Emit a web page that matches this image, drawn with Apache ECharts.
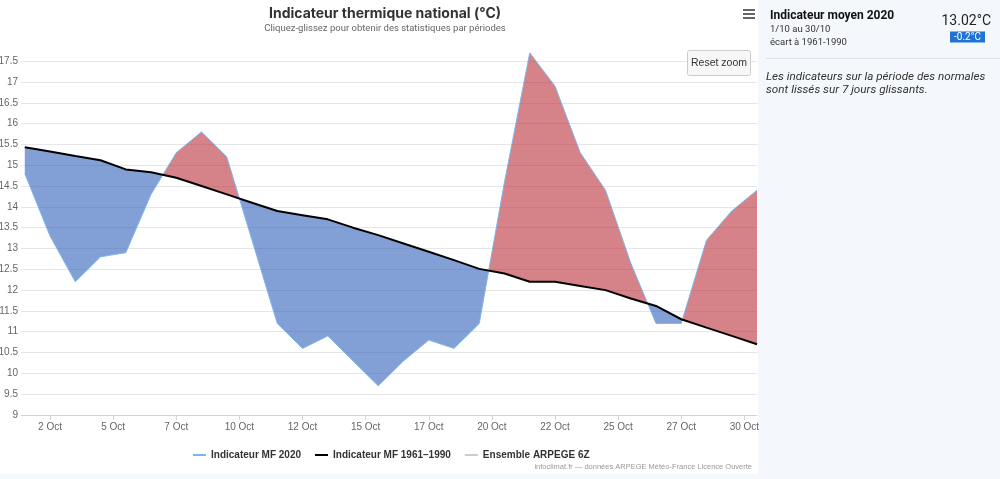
<!DOCTYPE html>
<html>
<head>
<meta charset="utf-8">
<script src="https://cdn.jsdelivr.net/npm/echarts@6/dist/echarts.min.js"></script>
<style>
html,body{margin:0;padding:0;background:#ffffff;}
#c{width:1000px;height:479px;}
</style>
</head>
<body>
<div id="c"></div>
<script>
// ---- data (October 2020, one value per day, plotted at noon) ----
var days = [1,2,3,4,5,6,7,8,9,10,11,12,13,14,15,16,17,18,19,20,21,22,23,24,25,26,27,28,29,30];
var mf2020 = [14.8,13.3,12.2,12.8,12.9,14.3,15.3,15.8,15.2,13.2,11.2,10.6,10.9,10.3,9.7,10.3,10.8,10.6,11.2,14.6,17.7,16.9,15.3,14.4,12.65,11.2,11.2,13.2,13.9,14.4];
var mf6190 = [15.43,15.33,15.22,15.12,14.9,14.83,14.7,14.5,14.3,14.1,13.9,13.8,13.7,13.5,13.32,13.12,12.92,12.72,12.51,12.4,12.2,12.2,12.1,12.0,11.8,11.62,11.3,11.1,10.9,10.7];
var arpege = [];
var xTickValues = [2.5,5,7.5,10,12.5,15,17.5,20,22.5,25,27.5,30];
var xTickLabels = ['2 Oct','5 Oct','7 Oct','10 Oct','12 Oct','15 Oct','17 Oct','20 Oct','22 Oct','25 Oct','27 Oct','30 Oct'];
var yTickValues = [9,9.5,10,10.5,11,11.5,12,12.5,13,13.5,14,14.5,15,15.5,16,16.5,17,17.5];
var seriesNames = ['Indicateur MF 2020','Indicateur MF 1961\u20131990','Ensemble ARPEGE 6Z'];
var meanText = '13.02\u00b0C';
var anomalyText = '-0.2\u00b0C';

var SANS = "'Liberation Sans',Arial,sans-serif";
var UI = "Roboto,Inter,'Noto Sans',sans-serif";
var TITLE = "Inter,Roboto,'Noto Sans',sans-serif";
var RED = 'rgba(185,47,57,0.6)';
var BLUE = 'rgba(47,97,185,0.6)';

function xOf(d){ return d + 0.5; }

// build fill runs between the two curves (split at crossings)
var nodes = [];
for (var i = 0; i < days.length; i++) {
  var x = xOf(days[i]), a = mf2020[i], n = mf6190[i];
  if (i > 0) {
    var pd = mf2020[i-1] - mf6190[i-1], cd = a - n;
    if (pd * cd < 0) {
      var t = pd / (pd - cd);
      var px = xOf(days[i-1]);
      var cy = mf6190[i-1] + t * (n - mf6190[i-1]);
      nodes.push({x: px + t * (x - px), a: cy, n: cy, cross: true});
    }
  }
  nodes.push({x: x, a: a, n: n});
}
var runs = [], cur = [];
nodes.forEach(function(nd){
  cur.push(nd);
  if (nd.cross) { runs.push(cur); cur = [nd]; }
});
runs.push(cur);

var chart = echarts.init(document.getElementById('c'), null, {renderer: 'canvas'});
var option = {
  animation: false,
  backgroundColor: '#ffffff',
  title: {
    text: 'Indicateur thermique national (\u00b0C)',
    subtext: 'Cliquez-glissez pour obtenir des statistiques par p\u00e9riodes',
    left: 380, top: 2, textAlign: 'center', itemGap: 3,
    textStyle: {fontFamily: TITLE, fontSize: 14, fontWeight: 'bold', color: '#333333'},
    subtextStyle: {fontFamily: UI, fontSize: 9.5, color: '#666666'}
  },
  legend: {
    left: 188, top: 445, icon: 'rect', itemWidth: 13, itemHeight: 2, itemGap: 14,
    data: seriesNames,
    textStyle: {fontFamily: SANS, fontSize: 10, fontWeight: 'bold', color: '#333333'}
  },
  grid: {left: 21, right: 243, top: 52, bottom: 64, outerBoundsMode: 'none'},
  xAxis: {
    type: 'value', min: 1.35, max: 30.5,
    axisLine: {show: true, lineStyle: {color: '#ccd6eb'}},
    axisTick: {show: true, length: 5, customValues: xTickValues, lineStyle: {color: '#ccd6eb'}},
    axisLabel: {customValues: xTickValues, margin: 7, fontFamily: SANS, fontSize: 10, color: '#666666',
      formatter: function(v){ var k = xTickValues.indexOf(v); return k >= 0 ? xTickLabels[k] : ''; }},
    splitLine: {show: false}
  },
  yAxis: {
    type: 'value', min: 9, max: 17.72,
    axisLine: {show: false},
    axisTick: {show: false, customValues: yTickValues},
    axisLabel: {customValues: yTickValues, margin: 3, fontFamily: SANS, fontSize: 10, color: '#666666'},
    splitLine: {show: true, lineStyle: {color: '#e6e6e6', width: 1}}
  },
  series: [
    {
      type: 'custom', name: 'fill', z: 1, silent: true, clip: true,
      data: runs.map(function(r){ return [r[0].x, r[0].n]; }),
      renderItem: function(params, api){
        var run = runs[params.dataIndex];
        var s = 0;
        run.forEach(function(p){ s += p.a - p.n; });
        var pts = run.map(function(p){ return api.coord([p.x, p.a]); })
          .concat(run.slice().reverse().map(function(p){ return api.coord([p.x, p.n]); }));
        return {type: 'polygon', shape: {points: pts}, style: {fill: s > 0 ? RED : BLUE}};
      }
    },
    {
      name: seriesNames[0], type: 'line', z: 3, showSymbol: false, symbol: 'none',
      color: '#7cb5ec', lineStyle: {color: '#7cb5ec', width: 1},
      data: days.map(function(d, i){ return [xOf(d), mf2020[i]]; })
    },
    {
      name: seriesNames[1], type: 'line', z: 4, showSymbol: false, symbol: 'none',
      color: '#000000', lineStyle: {color: '#000000', width: 2},
      data: days.map(function(d, i){ return [xOf(d), mf6190[i]]; })
    },
    {
      name: seriesNames[2], type: 'line', z: 2, showSymbol: false, symbol: 'none',
      color: '#cccccc', lineStyle: {color: '#cccccc', width: 1},
      data: arpege
    }
  ],
  graphic: [
    {type: 'rect', z: -10, shape: {x: 758, y: 0, width: 242, height: 479}, style: {fill: '#f4f7fc'}},
    {type: 'rect', z: -10, shape: {x: 0, y: 474, width: 1000, height: 5}, style: {fill: '#f4f7fc'}},
    {type: 'line', shape: {x1: 766, y1: 58.5, x2: 1000, y2: 58.5}, style: {stroke: '#dce2ea', lineWidth: 1}},
    {type: 'text', x: 770, y: 16, style: {text: 'Indicateur moyen 2020', font: 'bold 12px ' + UI, fill: '#111111', textVerticalAlign: 'middle'}},
    {type: 'text', x: 770, y: 29.5, style: {text: '1/10 au 30/10', font: '9.5px ' + UI, fill: '#333333', textVerticalAlign: 'middle'}},
    {type: 'text', x: 770, y: 42.5, style: {text: '\u00e9cart \u00e0 1961-1990', font: '9.5px ' + UI, fill: '#333333', textVerticalAlign: 'middle'}},
    {type: 'text', x: 991, y: 21.5, style: {text: meanText, font: '14px ' + UI, fill: '#222222', textAlign: 'right', textVerticalAlign: 'middle'}},
    {type: 'rect', shape: {x: 950, y: 31.5, width: 35, height: 11}, style: {fill: '#1f72d6'}},
    {type: 'text', x: 967.5, y: 37, style: {text: anomalyText, font: '10px ' + UI, fill: '#ffffff', textAlign: 'center', textVerticalAlign: 'middle'}},
    {type: 'text', x: 766, y: 77.5, style: {text: 'Les indicateurs sur la p\u00e9riode des normales', font: 'italic 11.7px ' + UI, fill: '#333333', textVerticalAlign: 'middle'}},
    {type: 'text', x: 766, y: 90, style: {text: 'sont liss\u00e9s sur 7 jours glissants.', font: 'italic 11.7px ' + UI, fill: '#333333', textVerticalAlign: 'middle'}},
    {type: 'rect', shape: {x: 743, y: 9, width: 12, height: 2}, style: {fill: '#666666'}},
    {type: 'rect', shape: {x: 743, y: 13, width: 12, height: 2}, style: {fill: '#666666'}},
    {type: 'rect', shape: {x: 743, y: 17, width: 12, height: 2}, style: {fill: '#666666'}},
    {type: 'rect', z: 10, shape: {x: 687.5, y: 50.5, width: 63, height: 25, r: 2}, style: {fill: '#f7f7f7', stroke: '#cccccc', lineWidth: 1}},
    {type: 'text', z: 11, x: 719, y: 63, style: {text: 'Reset zoom', font: '10.5px ' + SANS, fill: '#333333', textAlign: 'center', textVerticalAlign: 'middle'}},
    {type: 'text', x: 752, y: 467, style: {text: 'infoclimat.fr \u2014 donn\u00e9es ARPEGE M\u00e9t\u00e9o-France Licence Ouverte', font: '7.5px ' + SANS, fill: '#999999', textAlign: 'right', textVerticalAlign: 'middle'}}
  ]
};
chart.setOption(option);
</script>
</body>
</html>
